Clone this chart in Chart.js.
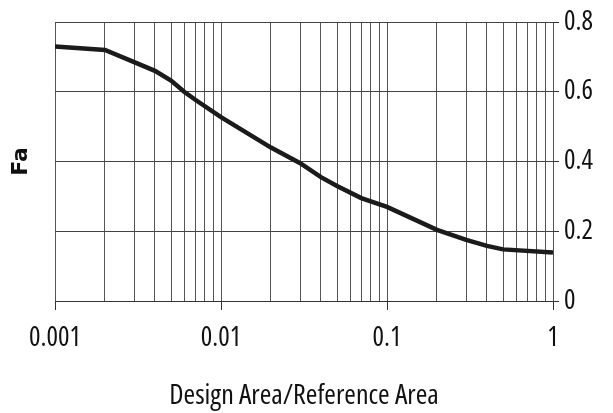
<!DOCTYPE html>
<html>
<head>
<meta charset="utf-8">
<script src="https://cdn.jsdelivr.net/npm/chart.js@4/dist/chart.umd.min.js"></script>
<style>
  html, body { margin: 0; padding: 0; background: #fff; }
  canvas { display: block; }
</style>
</head>
<body>
<canvas id="c" width="613" height="413"></canvas>
<script>
// Area ratio (design / reference) and the resulting Fa factor
const areaRatio = [0.001, 0.002, 0.003, 0.004, 0.005, 0.006, 0.007, 0.01, 0.02, 0.03, 0.04, 0.05, 0.07, 0.1, 0.2, 0.3, 0.4, 0.5, 1];
const faValues  = [0.73, 0.72, 0.685, 0.66, 0.632, 0.60, 0.577, 0.527, 0.44, 0.395, 0.355, 0.33, 0.295, 0.27, 0.204, 0.175, 0.158, 0.148, 0.139];

// Axis ticks: every 1..9 multiple of each decade gets a grid line, decades get labels
const decades = [0.001, 0.01, 0.1];
const multipliers = [1, 2, 3, 4, 5, 6, 7, 8, 9];
const xTickValues = decades.flatMap(d => multipliers.map(m => +(d * m).toPrecision(3))).concat([1]);
const xTickLabels = ['0.001', '0.01', '0.1', '1'];
const yTickValues = [0, 0.2, 0.4, 0.6, 0.8];

// Condensed sans for the numbers and the axis caption
const FONT = '"Open Sans", "Liberation Sans", Arial, sans-serif';
const isDecade = v => xTickLabels.includes(String(v));

new Chart(document.getElementById('c'), {
  type: 'line',
  data: {
    datasets: [{
      data: areaRatio.map((x, i) => ({ x, y: faValues[i] })),
      borderColor: '#1b1b1b',
      borderWidth: 4.5,
      pointRadius: 0,
      tension: 0,
      fill: false
    }]
  },
  options: {
    responsive: false,
    animation: false,
    devicePixelRatio: 1,
    layout: { padding: { top: 22, right: 0, bottom: 0, left: 0 } },
    plugins: { legend: { display: false }, tooltip: { enabled: false } },
    scales: {
      x: {
        type: 'logarithmic',
        min: 0.001,
        max: 1,
        afterBuildTicks: s => { s.ticks = xTickValues.map(v => ({ value: v })); },
        afterFit: s => { s.height = 112; },
        grid: {
          color: '#555',
          lineWidth: 1,
          drawTicks: true,
          tickLength: 9,
          tickColor: ctx => (ctx.tick && isDecade(ctx.tick.value)) ? '#333' : 'rgba(0,0,0,0)'
        },
        border: { display: true, color: '#333', width: 1 },
        ticks: {
          autoSkip: false,
          maxRotation: 0,
          padding: 12,
          color: '#111',
          font: { family: FONT, size: 27, weight: 'condensed' },
          callback: v => isDecade(v) ? String(v) : ''
        },
        title: {
          display: true,
          text: 'Design Area/Reference Area',
          color: '#111',
          font: { family: FONT, size: 28, weight: 'condensed' },
          padding: { top: 10, bottom: 0 }
        }
      },
      y: {
        type: 'linear',
        position: 'right',
        min: 0,
        max: 0.8,
        afterBuildTicks: s => { s.ticks = yTickValues.map(v => ({ value: v })); },
        afterFit: s => { s.width = 60; },
        grid: { color: '#444', lineWidth: 1, tickLength: 6, tickColor: '#333' },
        border: { display: false },
        ticks: {
          padding: 5,
          color: '#111',
          font: { family: FONT, size: 27, weight: 'condensed' },
          callback: v => String(v)
        }
      },
      yTitle: {
        type: 'linear',
        position: 'left',
        min: 0,
        max: 0.8,
        afterFit: s => { s.width = 55; },
        grid: { display: false, drawTicks: false },
        border: { display: false },
        ticks: { display: false },
        title: {
          display: true,
          text: 'Fa',
          color: '#111',
          font: { family: '"DejaVu Sans", sans-serif', size: 22, weight: 'bold' },
          padding: { top: 8, bottom: 0 }
        }
      }
    }
  }
});
</script>
</body>
</html>
